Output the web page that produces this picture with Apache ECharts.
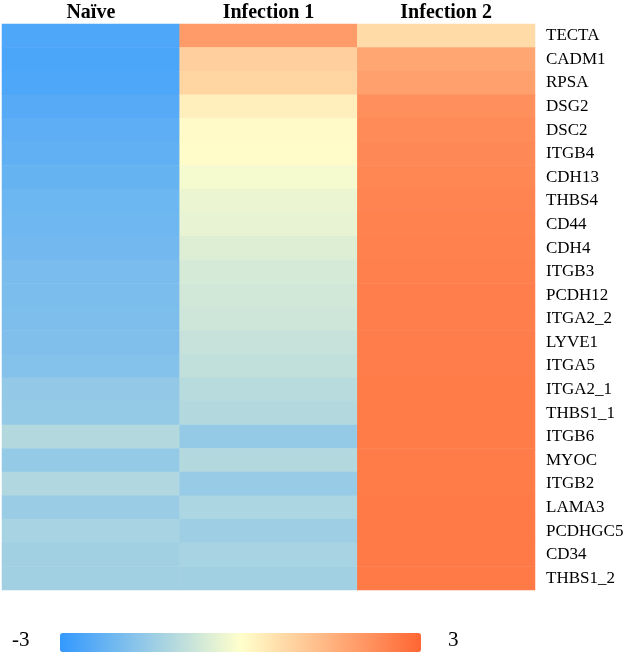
<!DOCTYPE html>
<html><head><meta charset="utf-8">
<script src="https://cdn.jsdelivr.net/npm/echarts@6/dist/echarts.min.js"></script>
<style>html,body{margin:0;padding:0;background:#fff}#c{width:630px;height:661px}</style>
</head><body><div id="c"></div>
<script>
const conditions = ['Naïve', 'Infection 1', 'Infection 2'];
const genes = ['TECTA','CADM1','RPSA','DSG2','DSC2','ITGB4','CDH13','THBS4','CD44','CDH4','ITGB3','PCDH12','ITGA2_2','LYVE1','ITGA5','ITGA2_1','THBS1_1','ITGB6','MYOC','ITGB2','LAMA3','PCDHGC5','CD34','THBS1_2'];
const naive = [-2.6,-2.65,-2.6,-2.49,-2.38,-2.33,-2.25,-2.16,-2.13,-2.06,-1.97,-1.94,-1.9,-1.87,-1.81,-1.59,-1.56,-1.12,-1.56,-1.15,-1.49,-1.29,-1.37,-1.37];
const infection1 = [1.96,0.92,0.82,0.31,0.1,0.05,-0.15,-0.3,-0.36,-0.5,-0.62,-0.68,-0.74,-0.84,-0.9,-1.04,-1.12,-1.56,-1.12,-1.53,-1.22,-1.44,-1.28,-1.37];
const infection2 = [0.7,1.75,1.86,2.18,2.27,2.31,2.35,2.42,2.45,2.48,2.5,2.52,2.53,2.54,2.55,2.56,2.57,2.58,2.58,2.59,2.6,2.6,2.6,2.6];
const scaleMin = -3, scaleMax = 3;
const scaleLabels = ['-3', '3'];

const cols = [naive, infection1, infection2];
const data = [];
cols.forEach((arr, ci) => arr.forEach((v, ri) => data.push([ci, ri, v])));

const chart = echarts.init(document.getElementById('c'), null, {renderer: 'canvas'});
chart.setOption({
  animation: false,
  grid: {left: 2, right: 95, top: 24, bottom: 71},
  xAxis: {
    type: 'category', data: conditions, position: 'top',
    axisLine: {show: false}, axisTick: {show: false}, splitLine: {show: false},
    axisLabel: {fontFamily: 'Liberation Serif', fontWeight: 'bold', fontSize: 20, color: '#000', margin: 1}
  },
  yAxis: {
    type: 'category', data: genes, inverse: true, position: 'right',
    axisLine: {show: false}, axisTick: {show: false}, splitLine: {show: false},
    axisLabel: {fontFamily: 'Liberation Serif', fontSize: 17, color: '#000', margin: 11, align: 'left'}
  },
  visualMap: {
    type: 'continuous', min: scaleMin, max: scaleMax, calculable: false,
    orient: 'horizontal', left: 60, top: 633, padding: 0, itemWidth: 19, itemHeight: 361,
    text: null, showLabel: false,
    inRange: {color: ['#3399ff', '#ffffcc', '#ff6633']}
  },
  graphic: [
    {type: 'text', left: 12, top: 630, style: {text: scaleLabels[0], font: '21px "Liberation Serif"', fill: '#000'}},
    {type: 'text', left: 448, top: 630, style: {text: scaleLabels[1], font: '21px "Liberation Serif"', fill: '#000'}}
  ],
  series: [{
    type: 'heatmap', data: data,
    itemStyle: {borderWidth: 0},
    emphasis: {disabled: true}
  }]
});
</script></body></html>
